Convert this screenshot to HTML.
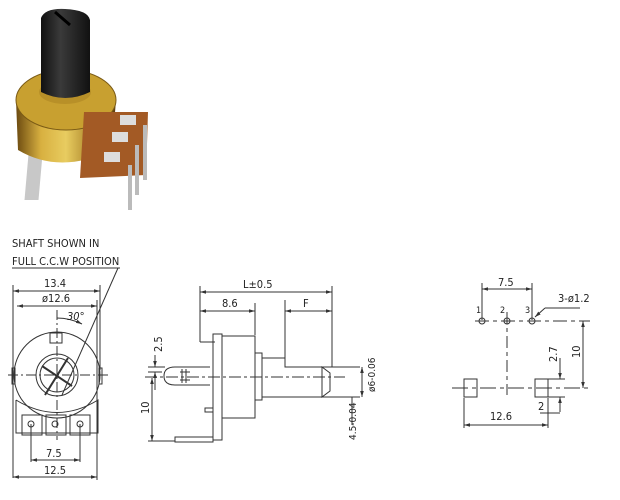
<!DOCTYPE html>
<html><head><style>
html,body{margin:0;padding:0;background:#fff;}
svg{display:block;}
text{font-family:"DejaVu Sans Condensed","Liberation Sans",sans-serif;fill:#222;}
</style></head><body>
<svg width="620" height="500" viewBox="0 0 620 500" xmlns="http://www.w3.org/2000/svg">
<defs>
<linearGradient id="brass" x1="0" x2="1" y1="0" y2="0">
<stop offset="0" stop-color="#6b4a10"/><stop offset="0.25" stop-color="#d8b040"/><stop offset="0.5" stop-color="#e8cc60"/><stop offset="0.8" stop-color="#a07820"/><stop offset="1" stop-color="#5a3a10"/></linearGradient>
<linearGradient id="blk" x1="0" x2="1"><stop offset="0" stop-color="#111"/><stop offset="0.4" stop-color="#3a3a3a"/><stop offset="1" stop-color="#111"/></linearGradient>
<marker id="a" viewBox="0 0 10 10" refX="10" refY="5" markerWidth="6" markerHeight="6" orient="auto-start-reverse"><path d="M0 2 L10 5 L0 8 Z" fill="#333"/></marker>
</defs>
<!-- photo -->
<g>
<rect x="42" y="150" width="14" height="50" fill="#c8c8c8" transform="skewX(-5)"/>
<path d="M16 100 L18 150 Q60 175 112 150 L116 100 Z" fill="url(#brass)"/>
<ellipse cx="66" cy="100" rx="50" ry="30" fill="#c8a030"/>
<ellipse cx="66" cy="100" rx="50" ry="30" fill="none" stroke="#7a5a15" stroke-width="1"/>
<path d="M84 112 L148 112 L146 175 L80 178 Z" fill="#a35a25"/>
<rect x="120" y="115" width="16" height="10" fill="#ddd"/><rect x="112" y="132" width="16" height="10" fill="#ddd"/><rect x="104" y="152" width="16" height="10" fill="#ddd"/>
<rect x="143" y="125" width="4" height="55" fill="#bbb"/><rect x="135" y="145" width="4" height="50" fill="#bbb"/><rect x="128" y="165" width="4" height="45" fill="#bbb"/>
<ellipse cx="65" cy="92" rx="26" ry="12" fill="#b89028"/>
<path d="M41 18 Q45 8 65 9 Q88 10 90 20 L90 92 Q65 104 41 92 Z" fill="url(#blk)"/>
<path d="M55 12 L70 25" stroke="#000" stroke-width="3"/>
</g>
<g stroke="#333" stroke-width="1" fill="none">
<!-- front view -->
<line x1="12" y1="268" x2="120" y2="268"/>
<line x1="118" y1="268" x2="62" y2="395"/>
<line x1="13" y1="285" x2="13" y2="478"/><line x1="100" y1="285" x2="100" y2="370"/><line x1="97" y1="300" x2="97" y2="480"/>
<line x1="13" y1="291" x2="100" y2="291" marker-start="url(#a)" marker-end="url(#a)"/><line x1="17" y1="306" x2="97" y2="306" marker-start="url(#a)" marker-end="url(#a)"/>
<circle cx="57" cy="375" r="43"/>
<circle cx="57" cy="375" r="21"/><circle cx="57" cy="375" r="17"/>
<line x1="45" y1="395" x2="68" y2="358" stroke-width="2"/><line x1="42" y1="366" x2="72" y2="386" stroke-width="2"/>
<rect x="50" y="333" width="12" height="10"/>
<line x1="8" y1="375" x2="110" y2="375" stroke-dasharray="10 3 2 3"/>
<line x1="57" y1="310" x2="57" y2="440" stroke-dasharray="10 3 2 3"/>
<path d="M57 318 A57 57 0 0 1 82 324" marker-end="url(#a)"/>
<rect x="12" y="368" width="3" height="16"/><rect x="99" y="368" width="3" height="16"/>
<path d="M16 400 L16 433 L98 433 L98 400 Q57 425 16 400"/>
<rect x="22" y="415" width="20" height="20"/><rect x="46" y="415" width="20" height="20"/><rect x="70" y="415" width="20" height="20"/>
<circle cx="31" cy="424" r="3"/><circle cx="55" cy="424" r="3"/><circle cx="80" cy="424" r="3"/>
<line x1="31" y1="424" x2="31" y2="462"/><line x1="80" y1="424" x2="80" y2="462"/>
<line x1="31" y1="460" x2="80" y2="460" marker-start="url(#a)" marker-end="url(#a)"/><line x1="13" y1="477" x2="97" y2="477" marker-start="url(#a)" marker-end="url(#a)"/>
<!-- side view -->
<line x1="145" y1="377" x2="345" y2="377" stroke-dasharray="12 3 3 3"/>
<line x1="200" y1="286" x2="200" y2="342"/><line x1="200" y1="342" x2="215" y2="342"/>
<line x1="332" y1="286" x2="332" y2="367"/>
<line x1="200" y1="292" x2="332" y2="292" marker-start="url(#a)" marker-end="url(#a)"/>
<line x1="255" y1="303" x2="255" y2="335"/><line x1="285" y1="300" x2="285" y2="358"/>
<line x1="200" y1="311" x2="255" y2="311" marker-start="url(#a)" marker-end="url(#a)"/><line x1="285" y1="311" x2="332" y2="311" marker-start="url(#a)" marker-end="url(#a)"/>
<rect x="213" y="334" width="9" height="106"/>
<rect x="222" y="336" width="33" height="82"/>
<rect x="255" y="353" width="7" height="47"/>
<path d="M262 358 L285 358 L285 367 L360 367 M262 397 L360 397"/>
<path d="M322 367 L330 373 L330 391 L322 397 Z"/>
<path d="M210 367 L175 367 Q164 367 164 376 Q164 385 175 385 L210 385"/>
<line x1="180" y1="372" x2="190" y2="372"/><line x1="180" y1="380" x2="190" y2="380"/>
<line x1="182" y1="369" x2="182" y2="383"/><line x1="186" y1="369" x2="186" y2="383"/>
<rect x="205" y="408" width="8" height="4"/>
<path d="M175 437 L213 437 L213 442 L175 442 Z"/>
<line x1="155" y1="355" x2="155" y2="367" marker-end="url(#a)"/><line x1="155" y1="390" x2="155" y2="372" marker-end="url(#a)"/><line x1="148" y1="367" x2="165" y2="367"/><line x1="148" y1="372" x2="162" y2="372"/>
<line x1="152" y1="378" x2="152" y2="441" marker-start="url(#a)" marker-end="url(#a)"/><line x1="148" y1="441" x2="175" y2="441"/>
<line x1="362" y1="367" x2="362" y2="397" marker-start="url(#a)" marker-end="url(#a)"/><line x1="352" y1="397" x2="352" y2="425"/>
<!-- pinout -->
<line x1="482" y1="283" x2="482" y2="320"/><line x1="532" y1="283" x2="532" y2="320"/>
<line x1="482" y1="289" x2="532" y2="289" marker-start="url(#a)" marker-end="url(#a)"/>
<circle cx="482" cy="321" r="3"/><circle cx="507" cy="321" r="3"/><circle cx="532" cy="321" r="3"/>
<line x1="475" y1="321" x2="590" y2="321" stroke-dasharray="14 4 4 4"/>
<line x1="507" y1="312" x2="507" y2="395" stroke-dasharray="12 4 4 4"/>
<line x1="545" y1="308" x2="535" y2="317" marker-end="url(#a)"/><line x1="545" y1="308" x2="580" y2="308"/>
<line x1="583" y1="321" x2="583" y2="388" marker-start="url(#a)" marker-end="url(#a)"/>
<line x1="452" y1="388" x2="590" y2="388" stroke-dasharray="16 4 4 4"/>
<rect x="464" y="379" width="13" height="18"/><rect x="535" y="379" width="13" height="18"/>
<line x1="560" y1="358" x2="560" y2="379" marker-end="url(#a)"/><line x1="560" y1="412" x2="560" y2="397" marker-end="url(#a)"/><line x1="548" y1="397" x2="565" y2="397"/><line x1="548" y1="379" x2="565" y2="379"/>
<line x1="540" y1="413" x2="560" y2="413"/><line x1="464" y1="398" x2="464" y2="428"/><line x1="548" y1="398" x2="548" y2="428"/>
<line x1="464" y1="425" x2="548" y2="425" marker-start="url(#a)" marker-end="url(#a)"/>
</g>
<g font-size="11">
<text x="12" y="247">SHAFT SHOWN IN</text>
<text x="12" y="265">FULL C.C.W POSITION</text>
<text x="44" y="287">13.4</text>
<text x="42" y="302">ø12.6</text>
<text x="67" y="320" font-style="italic">30°</text>
<text x="46" y="457">7.5</text>
<text x="44" y="474">12.5</text>
<text x="243" y="288">L±0.5</text>
<text x="222" y="307">8.6</text>
<text x="303" y="307">F</text>
<text transform="translate(162,352) rotate(-90)">2.5</text>
<text transform="translate(149,414) rotate(-90)">10</text>
<text transform="translate(375,392) rotate(-90)" font-size="10">ø6-0.06</text>
<text transform="translate(356,440) rotate(-90)" font-size="10">4.5-0.04</text>
<text x="498" y="286">7.5</text>
<text x="476" y="313" font-size="9">1</text><text x="500" y="313" font-size="9">2</text><text x="525" y="313" font-size="9">3</text>
<text x="558" y="302">3-ø1.2</text>
<text transform="translate(580,358) rotate(-90)">10</text>
<text transform="translate(557,362) rotate(-90)">2.7</text>
<text x="538" y="410">2</text>
<text x="490" y="420">12.6</text>
</g>
</svg>
</body></html>
